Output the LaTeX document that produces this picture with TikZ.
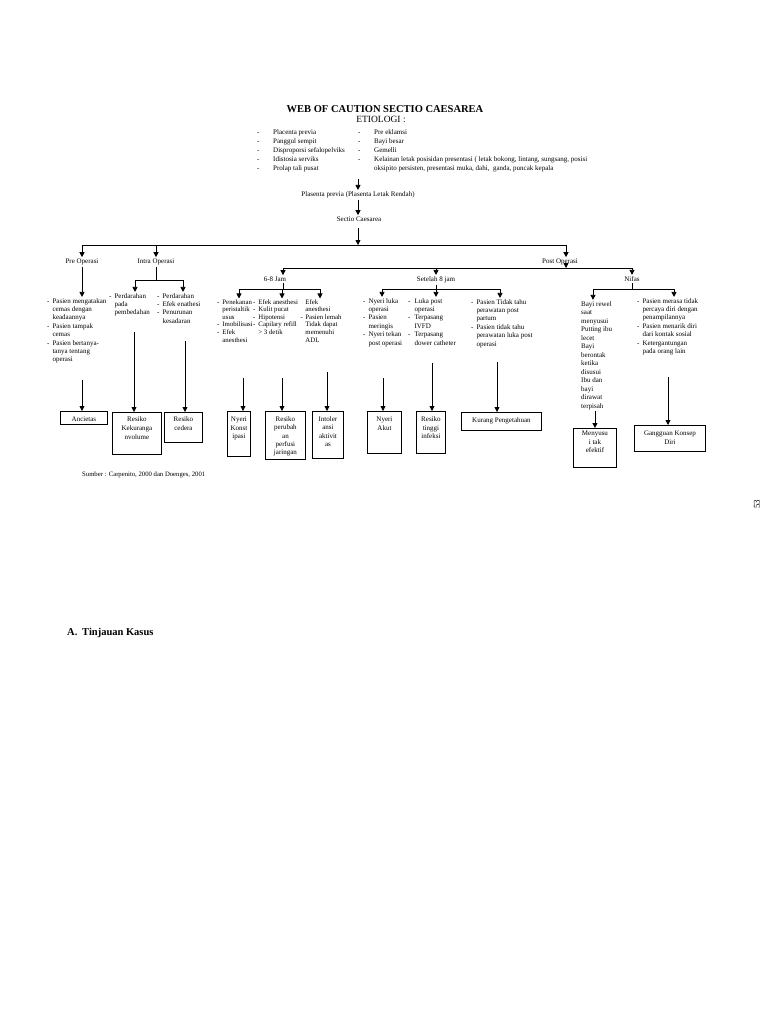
\documentclass[tikz,border=0pt]{standalone}
\usepackage{fontspec}
\setmainfont{Liberation Serif}
\usetikzlibrary{arrows.meta}
\newcommand\dlist[2]{\begin{tabular}[t]{@{}l@{\hspace{#1pt}}l@{}}#2\end{tabular}}
\newcommand\ltab[1]{\begin{tabular}[t]{@{}l@{}}#1\end{tabular}}
\newcommand\ctab[1]{\begin{tabular}[t]{@{}c@{}}#1\end{tabular}}
\begin{document}
\begin{tikzpicture}[x=1pt,y=-1pt,
  every node/.style={inner sep=0pt},
  tx/.style={font=\fontsize{7}{8.4}\selectfont, anchor=base west},
  txs/.style={font=\fontsize{6.8}{7.6}\selectfont, anchor=base west},
  txn/.style={font=\fontsize{7}{8.5}\selectfont, anchor=base west},
  lbl/.style={font=\fontsize{7}{8.4}\selectfont, inner sep=1.5pt, anchor=base},
  bxt/.style={font=\fontsize{7}{8.6}\selectfont, anchor=base},
  bx/.style={draw, line width=0.9pt, anchor=north west},
  ln/.style={line width=0.8pt},
  arr/.style={line width=0.8pt, -{Triangle[length=5pt,width=5pt]}}]
\useasboundingbox (0,0) rectangle (768,1024);

% ---- title
\node[font=\bfseries\fontsize{10.5}{12}\selectfont, anchor=base] (title) at (385,113) {WEB OF CAUTION SECTIO CAESAREA};
\node[font=\fontsize{9.5}{11}\selectfont, anchor=base] (etio) at (381,123) {ETIOLOGI :};

% ---- etiology list
\node[tx, font=\fontsize{7}{9}\selectfont] (eld) at (257,135) {\ltab{-\\-\\-\\-\\-}};
\node[tx, font=\fontsize{7}{9}\selectfont] (elt) at (273,135) {\ltab{Placenta previa\\Panggul sempit\\Disproporsi sefalopelviks\\Idistosia serviks\\Prolap tali pusat}};
\node[tx, font=\fontsize{7}{9}\selectfont] (erd) at (358,135) {\ltab{-\\-\\-\\-}};
\node[tx, font=\fontsize{7}{9}\selectfont] (ert) at (374,135) {\ltab{Pre eklamsi\\Bayi besar\\Gemelli\\Kelainan letak posisidan presentasi ( letak bokong, lintang, sungsang, posisi\\oksipito persisten, presentasi muka, dahi,\ \ ganda, puncak kepala}};

% ---- main chain
\coordinate (e1) at (358,179);
\node[lbl] (plas) at (358,196.5) {Plasenta previa (Plasenta Letak Rendah)};
\node[lbl] (sectio) at (359,221.5) {Sectio Caesarea};
\draw[arr] (e1) -- (e1 |- plas.north);
\draw[arr] (plas.south -| e1) -- (e1 |- sectio.north);
\coordinate (h1) at (358,245);
\coordinate (hL) at (82,245);
\coordinate (hI) at (156,245);
\coordinate (hR) at (566,245);
\draw[arr, shorten <=5pt] (sectio.south -| h1) -- (h1);
\draw[ln] (hL) -- (hR);

\node[lbl] (pre) at (82,263.5) {Pre Operasi};
\node[lbl] (intra) at (156,263.5) {Intra Operasi};
\node[lbl] (post) at (560,263.5) {Post Operasi};
\draw[arr] (hL) -- (hL |- pre.north);
\draw[arr] (hI) -- (hI |- intra.north);
\draw[arr] (hR) -- (hR |- post.north);

% ---- pre operasi
\node[tx] (preblk) at (47,303) {\dlist{3}{- & Pasien mengatakan\\ & cemas dengan\\ & keadaannya\\ - & Pasien tampak\\ & cemas\\ - & Pasien bertanya-\\ & tanya tentang\\ & operasi}};
\draw[arr] (pre.south) -- (pre.south |- preblk.north);

% ---- intra operasi
\coordinate (iJ) at (156,280);
\coordinate (i1) at (135,280);
\coordinate (i2) at (183,280);
\draw[ln] (intra.south) -- (iJ);
\draw[ln] (i1) -- (i2);
\node[tx] (ib1) at (109,298) {\dlist{3}{- & Perdarahan\\ & pada\\ & pembedahan}};
\node[tx] (ib2) at (157,298) {\dlist{3}{- & Perdarahan\\ - & Efek enathesi\\ - & Penurunan\\ & kesadaran}};
\draw[arr] (i1) -- (i1 |- ib1.north);
\draw[arr] (i2) -- (i2 |- ib2.north);

% ---- post operasi
\coordinate (hP) at (566,268);
\coordinate (pL) at (283,268);
\coordinate (pM) at (436,268);
\coordinate (pR) at (632,268);
\draw[arr] ([yshift=3pt]post.south -| hR) -- (hP);
\draw[ln] (pL) -- (pR);
\node[lbl] (j68) at (275,281.5) {6-8 Jam};
\node[lbl] (s8) at (436,281.5) {Setelah 8 jam};
\node[lbl] (nf) at (632,281.5) {Nifas};
\draw[arr] (pL) -- (pL |- j68.north);
\draw[arr] (pM) -- (pM |- s8.north);
\draw[arr] (pR) -- (pR |- nf.north);

% 6-8 jam
\coordinate (jJ) at (283,289);
\coordinate (j1) at (239,289);
\coordinate (j2) at (282,289);
\coordinate (j3) at (320,289);
\draw[ln] (j68.south -| jJ) -- (jJ);
\draw[ln] (j1) -- (j3);
\node[txs] (ja) at (217,304) {\dlist{3}{- & Penekanan\\ & peristaltik\\ & usus\\ - & Imobilisasi\\ - & Efek\\ & anesthesi}};
\node[txs] (jb) at (253,304) {\dlist{3}{- & Efek anesthesi\\ - & Kulit pucat\\ - & Hipotensi\\ - & Capilary refill\\ & > 3 detik}};
\node[txs] (jc) at (300.5,304) {\dlist{2.5}{ & Efek\\ & anesthesi\\ - & Pasien lemah\\ & Tidak dapat\\ & memenuhi\\ & ADL}};
\draw[arr] (j1) -- (j1 |- ja.north);
\draw[arr] (j2) -- (j2 |- jb.north);
\draw[arr] (j3) -- (j3 |- jc.north);

% setelah 8 jam
\coordinate (sJ) at (436,289);
\coordinate (s1) at (382,289);
\coordinate (s3) at (500,289);
\draw[ln] (s8.south -| sJ) -- (sJ);
\draw[ln] (s1) -- (s3);
\node[tx] (sa) at (363,303) {\dlist{3}{- & Nyeri luka\\ & operasi\\ - & Pasien\\ & meringis\\ - & Nyeri tekan\\ & post operasi}};
\node[tx] (sb) at (408,303) {\dlist{4}{- & Luka post\\ & operasi\\ - & Terpasang\\ & IVFD\\ - & Terpasang\\ & dower catheter}};
\node[tx] (sc) at (471,304) {\dlist{3}{- & Pasien Tidak tahu\\ & perawatan post\\ & partum\\ - & Pasien tidak tahu\\ & perawatan luka post\\ & operasi}};
\draw[arr] (s1) -- (s1 |- sa.north);
\draw[arr] (sJ) -- (sJ |- sb.north);
\draw[arr] (s3) -- (s3 |- sc.north);

% nifas
\coordinate (nJ) at (632,289);
\coordinate (n1) at (593,289);
\coordinate (n2) at (674,289);
\draw[ln] (nf.south -| nJ) -- (nJ);
\draw[ln] (n1) -- (n2);
\node[txn] (nl) at (581,306) {\ltab{Bayi rewel\\saat\\menyusui\\Putting ibu\\lecet\\Bayi\\berontak\\ketika\\disusui\\Ibu dan\\bayi\\dirawat\\terpisah}};
\node[tx] (nr) at (637,303) {\dlist{3}{- & Pasien merasa tidak\\ & percaya diri dengan\\ & penampilannya\\ - & Pasien menarik diri\\ & dari kontak sosial\\ - & Ketergantungan\\ & pada orang lain}};
\draw[arr] (n1) -- (n1 |- nl.north);
\draw[arr] (n2) -- (n2 |- nr.north);

% ---- boxes
\node[bx, minimum width=47pt, minimum height=13pt] (bAnc) at (60,411) {};
\node[bx, minimum width=49pt, minimum height=42pt] (bRK) at (112,412) {};
\node[bx, minimum width=38pt, minimum height=30pt] (bRC) at (164,412) {};
\node[bx, minimum width=23pt, minimum height=45pt] (bNK) at (227,411) {};
\node[bx, minimum width=40pt, minimum height=48pt] (bRP) at (265,411) {};
\node[bx, minimum width=31pt, minimum height=47pt] (bIA) at (312,411) {};
\node[bx, minimum width=34pt, minimum height=42pt] (bNA) at (367,411) {};
\node[bx, minimum width=29pt, minimum height=42pt] (bRT) at (416,411) {};
\node[bx, minimum width=80pt, minimum height=18pt] (bKP) at (461,412) {};
\node[bx, minimum width=43pt, minimum height=39pt] (bMT) at (573,428) {};
\node[bx, minimum width=71pt, minimum height=26pt] (bGK) at (634,425) {};

\node[bxt] (tAnc) at (bAnc.north |- 0,421.5) {Ancietas};
\node[bxt, font=\fontsize{7}{9}\selectfont] (tRK) at (bRK.north |- 0,421.5) {\ctab{Resiko\\Kekuranga\\nvolume}};
\node[bxt] (tRC) at (bRC.north |- 0,421.5) {\ctab{Resiko\\cedera}};
\node[bxt, font=\fontsize{7}{8.5}\selectfont] (tNK) at (bNK.north |- 0,421.5) {\ctab{Nyeri\\Konst\\ipasi}};
\node[bxt, font=\fontsize{7}{8.3}\selectfont] (tRP) at (bRP.north |- 0,421.5) {\ctab{Resiko\\perubah\\an\\perfusi\\jaringan}};
\node[bxt, font=\fontsize{7}{8.4}\selectfont] (tIA) at (bIA.north |- 0,421.5) {\ctab{Intoler\\ansi\\aktivit\\as}};
\node[bxt] (tNA) at (bNA.north |- 0,421.5) {\ctab{Nyeri\\Akut}};
\node[bxt, font=\fontsize{7}{8.5}\selectfont] (tRT) at (bRT.north |- 0,421.5) {\ctab{Resiko\\tinggi\\infeksi}};
\node[bxt] (tKP) at (bKP.north |- 0,422.5) {Kurang Pengetahuan};
\node[bxt, font=\fontsize{7}{8.6}\selectfont] (tMT) at (bMT.north |- 0,435.5) {\ctab{Menyusu\\i tak\\efektif}};
\node[bxt] (tGK) at (bGK.north |- 0,435.5) {\ctab{Gangguan Konsep\\Diri}};

% ---- connectors block -> box
\coordinate (a1) at (82,380);
\coordinate (a2) at (134,332);
\coordinate (a3) at (185,341);
\coordinate (a4) at (243,378);
\coordinate (a5) at (282,378);
\coordinate (a6) at (327,372);
\coordinate (a7) at (383,378);
\coordinate (a8) at (432,363);
\coordinate (a9) at (497,362);
\coordinate (a10) at (668,377);
\draw[arr] (a1) -- (a1 |- bAnc.north);
\draw[arr] (a2) -- (a2 |- bRK.north);
\draw[arr] (a3) -- (a3 |- bRC.north);
\draw[arr] (a4) -- (a4 |- bNK.north);
\draw[arr] (a5) -- (a5 |- bRP.north);
\draw[arr] (a6) -- (a6 |- bIA.north);
\draw[arr] (a7) -- (a7 |- bNA.north);
\draw[arr] (a8) -- (a8 |- bRT.north);
\draw[arr] (a9) -- (a9 |- bKP.north);
\draw[arr] (nl.south -| bMT.north) -- (bMT.north);
\draw[arr] (a10) -- (a10 |- bGK.north);

% ---- footer texts
\node[font=\fontsize{6.7}{8}\selectfont, anchor=base west] (src) at (82,476) {Sumber : Carpenito, 2000 dan Doenges, 2001};
\node[font=\fontsize{9}{10}\selectfont, rotate=90] (pg) at (757,504) {53};
\node[font=\bfseries\fontsize{10.5}{12}\selectfont, anchor=base west] (secA) at (67,635) {A.};
\node[font=\bfseries\fontsize{10.5}{12}\selectfont, anchor=base west] (secT) at (82,635) {Tinjauan Kasus};
\end{tikzpicture}
\end{document}
